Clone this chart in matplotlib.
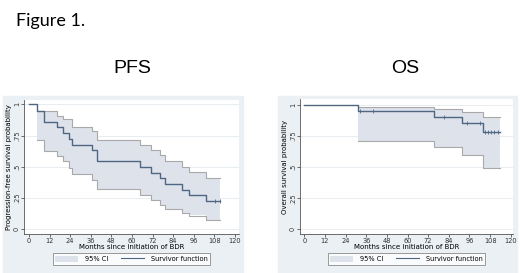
import matplotlib.pyplot as plt
from matplotlib.patches import Rectangle, Patch
from matplotlib.lines import Line2D

# PFS: Kaplan-Meier steps (months, survival) and 95% CI
pfs_t = [0, 4.9, 8.7, 16.5, 19.6, 23.5, 24.8, 36.5, 39.8, 64.6, 70.9, 76.3, 79.2, 88.9, 93.4, 103.1, 111.2]
pfs_s = [1.0, 0.944, 0.856, 0.816, 0.77, 0.725, 0.677, 0.632, 0.544, 0.498, 0.45, 0.41, 0.362, 0.317, 0.272, 0.224, 0.224]
pfs_ci_t = [4.9, 8.7, 16.5, 19.6, 23.5, 24.8, 36.5, 39.8, 64.6, 70.9, 76.3, 79.2, 88.9, 93.4, 103.1, 111.2]
pfs_hi = [0.95, 0.944, 0.91, 0.885, 0.885, 0.82, 0.784, 0.712, 0.677, 0.632, 0.592, 0.544, 0.498, 0.458, 0.41, 0.41]
pfs_lo = [0.712, 0.629, 0.584, 0.544, 0.49, 0.442, 0.397, 0.322, 0.277, 0.237, 0.197, 0.165, 0.13, 0.11, 0.075, 0.075]
pfs_cens_t = [108.5, 111.0]
pfs_cens_s = [0.224, 0.224]

# OS
os_t = [0, 31.4, 75.4, 91.5, 103.7, 113.8]
os_s = [1.0, 0.954, 0.90, 0.853, 0.78, 0.78]
os_ci_t = [31.4, 75.4, 91.5, 103.7, 113.8]
os_hi = [0.987, 0.968, 0.94, 0.90, 0.90]
os_lo = [0.713, 0.66, 0.597, 0.49, 0.49]
os_cens_t = [32.5, 40, 81, 94.8, 102, 105, 106.5, 108.5, 110.5, 112.5]
os_cens_s = [0.954, 0.954, 0.90, 0.853, 0.853, 0.78, 0.78, 0.78, 0.78, 0.78]

xticks = [0, 12, 24, 36, 48, 60, 72, 84, 96, 108, 120]
yticks = [0, 0.25, 0.5, 0.75, 1]
ylabels = ['0', '.25', '.5', '.75', '1']

W, H = 520, 273
fig = plt.figure(figsize=(W / 100, H / 100), dpi=100)
fig.patch.set_facecolor('white')

def px(l, t, r, b):
    return [l / W, 1 - b / H, (r - l) / W, (b - t) / H]

panel_bg = '#eaf0f3'
band_c = '#dde2eb'
band_edge = '#a9a9a9'
line_c = '#4f6783'

for (l, r) in [(3, 243), (278, 517)]:
    fig.patches.append(Rectangle((l / W, 0), (r - l) / W, 1 - 96 / H,
                                 transform=fig.transFigure, color=panel_bg, zorder=-5))

fig.text(16 / W, 1 - 26 / H, 'Figure 1.', fontsize=13, family='Lato', va='baseline')
fig.text(132 / W, 1 - 73 / H, 'PFS', fontsize=14, family='Liberation Sans', ha='center', va='baseline')
fig.text(405 / W, 1 - 73 / H, 'OS', fontsize=14, family='Liberation Sans', ha='center', va='baseline')

def km_panel(rect, xlim, ylim, t, s, ci_t, hi, lo, ct, cs, ylab):
    ax = fig.add_axes(rect)
    ax.set_zorder(1)
    ax.set_facecolor('white')
    ax.fill_between(ci_t, lo, hi, step='post', color=band_c, lw=0, zorder=1)
    ax.step(ci_t, hi, where='post', color=band_edge, lw=0.8, zorder=2)
    ax.step(ci_t, lo, where='post', color=band_edge, lw=0.8, zorder=2)
    ax.step(t, s, where='post', color=line_c, lw=1.0, zorder=3)
    ax.plot(ct, cs, ls='none', marker='|', ms=2.5, mew=0.6, color=line_c, zorder=4)
    ax.set_xlim(*xlim)
    ax.set_ylim(*ylim)
    ax.set_xticks(xticks)
    ax.set_yticks(yticks)
    ax.set_yticklabels(ylabels, rotation=90, va='center')
    ax.grid(axis='y', color='#e3eaee', lw=0.6)
    ax.set_axisbelow(True)
    for sp in ['top', 'right']:
        ax.spines[sp].set_visible(False)
    for sp in ['left', 'bottom']:
        ax.spines[sp].set_color('#555555')
        ax.spines[sp].set_linewidth(0.6)
    ax.tick_params(labelsize=4.8, length=2, width=0.5, pad=1, colors='#333333')
    ax.set_xlabel('Months since initiation of BDR', fontsize=5, labelpad=0)
    ax.set_ylabel(ylab, fontsize=5, labelpad=1)
    handles = [Patch(facecolor=band_c, edgecolor='none'),
               Line2D([], [], color=line_c, lw=0.8)]
    leg = ax.legend(handles, ['95% CI', 'Survivor function'], loc='center',
                    bbox_to_anchor=(0.5, -0.185), ncol=2, fontsize=4.8,
                    frameon=True, fancybox=False, edgecolor='#555555',
                    handlelength=3.4, handleheight=1.0, columnspacing=2.0,
                    borderpad=0.4, handletextpad=1.0)
    leg.get_frame().set_linewidth(0.5)
    return ax

km_panel(px(24, 100, 239, 234), (-2.9, 122.3), (-0.038, 1.034),
         pfs_t, pfs_s, pfs_ci_t, pfs_hi, pfs_lo, pfs_cens_t, pfs_cens_s,
         'Progression-free survival probability')
km_panel(px(300, 99, 513, 234), (-2.5, 121.3), (-0.038, 1.048),
         os_t, os_s, os_ci_t, os_hi, os_lo, os_cens_t, os_cens_s,
         'Overall survival probability')

fig.savefig('out.png', dpi=100)
